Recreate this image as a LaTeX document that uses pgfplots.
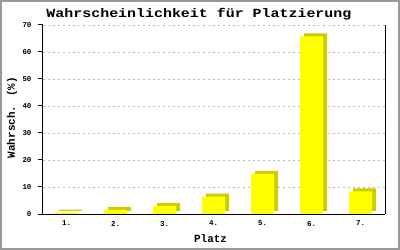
\documentclass[border=0pt]{standalone}
\usepackage{fontspec}
\setmainfont{Liberation Mono}
\newfontfamily\titlefont[FakeStretch=1.2]{Liberation Mono}
\usepackage{pgfplots}
\pgfplotsset{compat=1.18}
\definecolor{baryellow}{HTML}{FFFF00}
\definecolor{barshadow}{HTML}{CCCC00}
\definecolor{gridgray}{HTML}{BBBBBB}
\definecolor{framegray}{HTML}{999999}
\begin{document}
\begin{tikzpicture}
\begin{axis}[
  scale only axis, width=342bp, height=189bp,
  xmin=0.52, xmax=7.5, ymin=0, ymax=70,
  axis x line*=bottom, axis y line*=box,
  axis line style={black, line width=1bp},
  ytick={0,10,20,30,40,50,60,70}, ytick pos=left,
  xtick={1,2,3,4,5,6,7},
  xticklabels={1.,2.,3.,4.,5.,6.,7.},
  x tick style={draw=none},
  y tick style={black, line width=1bp},
  tick align=outside, major tick length=5bp,
  ymajorgrids, grid style={gridgray, line width=0.8bp, dash pattern=on 2bp off 3bp},
  tick label style={font=\bfseries\fontsize{7.5}{8}\selectfont},
  yticklabel style={xshift=-3bp},
  xticklabel style={yshift=1.5bp},
  /pgf/number format/assume math mode=true,
  title={Wahrscheinlichkeit für Platzierung},
  title style={font=\titlefont\bfseries\fontsize{12.5}{14}\selectfont, at={(axis description cs:0.456,1.009)}, anchor=base},
  xlabel={Platz}, ylabel={Wahrsch. (\%)},
  label style={font=\bfseries\fontsize{11}{12}\selectfont},
  xlabel style={at={(axis description cs:0.49,-0.132)}, anchor=center},
  ylabel style={at={(axis description cs:-0.0906,0.51)}, anchor=center},
]
\addplot[ybar, bar width=23bp, fill=baryellow, draw=none,
  preaction={fill=barshadow, transform canvas={shift={(4bp,3bp)}}}]
  coordinates {(1,0.5) (2,1.5) (3,3.0) (4,6.4) (5,14.9) (6,65.8) (7,8.4)};
\end{axis}
\draw[framegray, line width=2bp] (-42bp,-35bp) rectangle (356bp,213bp);
\pgfresetboundingbox
\useasboundingbox (-43bp,-36bp) rectangle (357bp,214bp);
\end{tikzpicture}
\end{document}
